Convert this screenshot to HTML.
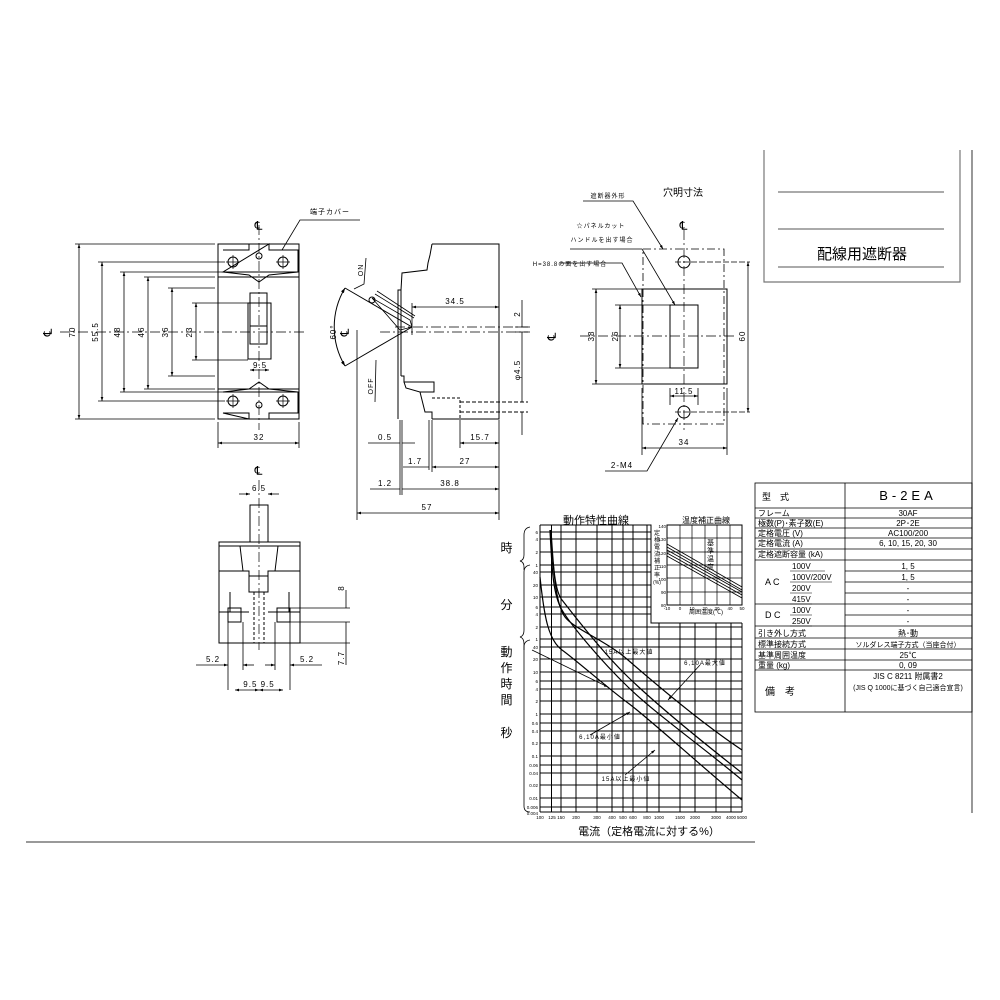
<!DOCTYPE html>
<html><head><meta charset="utf-8"><style>
html,body{margin:0;padding:0;background:#fff;}
svg{display:block;font-family:"Liberation Sans","Noto Sans CJK JP",sans-serif;}
</style></head><body>
<svg width="1000" height="1000" viewBox="0 0 1000 1000" xmlns="http://www.w3.org/2000/svg">
<rect width="1000" height="1000" fill="#fff"/>
<defs>
<marker id="a" viewBox="0 0 6 6" refX="6" refY="3" markerWidth="5" markerHeight="5" orient="auto-start-reverse"><path d="M0,1 L6,3 L0,5z" fill="#000"/></marker>
</defs>
<g stroke="#000" fill="none" stroke-width="1">
<!-- ===== FRONT VIEW ===== -->
<rect x="218" y="244" width="81" height="175"/>
<line x1="259" y1="225" x2="259" y2="430" stroke-dasharray="10,3,2,3" stroke-width="0.7"/>
<line x1="60" y1="332" x2="305" y2="332" stroke-dasharray="10,3,2,3" stroke-width="0.7"/>
<path d="M223,250 H249 V244 M269,244 V250 H298 V272 H223 Z"/>
<path d="M223,272 L249,275 L259,282 L269,275 L298,272"/>
<path d="M223,392 L249,389 L259,382 L269,389 L298,392"/>
<path d="M223,392 H298 V413 H269 V419 M249,419 V413 H223 Z"/>
<line x1="218" y1="277" x2="299" y2="277"/><line x1="218" y1="389" x2="299" y2="389"/>
<circle cx="233" cy="262" r="5"/><circle cx="283" cy="262" r="5"/>
<circle cx="233" cy="401" r="5"/><circle cx="283" cy="401" r="5"/>
<circle cx="259" cy="256" r="3"/><circle cx="259" cy="405" r="3"/>
<path d="M226,262 h14 M233,255 v14 M276,262 h14 M283,255 v14 M226,401 h14 M233,394 v14 M276,401 h14 M283,394 v14" stroke-width="0.7"/>
<rect x="250" y="293" width="17" height="51"/>
<rect x="248" y="303" width="23" height="56"/>
<line x1="250" y1="326" x2="267" y2="326"/>
<!-- dims front -->
<g stroke-width="0.8">
<path d="M75,244 H215 M75,419 H215 M98,262 H225 M98,401 H225 M120,272 H225 M120,392 H225 M144,277 H215 M144,389 H215 M168,288 H215 M168,376 H215 M192,303 H248 M192,360 H248"/>
<line x1="79" y1="244" x2="79" y2="419" marker-start="url(#a)" marker-end="url(#a)"/>
<line x1="102" y1="262" x2="102" y2="401" marker-start="url(#a)" marker-end="url(#a)"/>
<line x1="124" y1="272" x2="124" y2="392" marker-start="url(#a)" marker-end="url(#a)"/>
<line x1="148" y1="277" x2="148" y2="389" marker-start="url(#a)" marker-end="url(#a)"/>
<line x1="172" y1="288" x2="172" y2="376" marker-start="url(#a)" marker-end="url(#a)"/>
<line x1="196" y1="303" x2="196" y2="360" marker-start="url(#a)" marker-end="url(#a)"/>
<path d="M218,422 V448 M299,422 V448"/>
<line x1="218" y1="443" x2="299" y2="443" marker-start="url(#a)" marker-end="url(#a)"/>
<line x1="250" y1="370" x2="269" y2="370" marker-start="url(#a)" marker-end="url(#a)"/>
<path d="M282,250 L300,220 H360"/>
</g>
<!-- ===== SIDE VIEW ===== -->
<path d="M432,244 H499 V419 H432 M432,244 L430,255 L428,263 L427,270 L402,273 L401,290 L398,290 V419"/>
<line x1="401" y1="290" x2="401" y2="376"/>
<path d="M401,376 H404 V382 H434 V392 H420 M404,382 L406,388 L420,392 L425,412 L432,412 V419"/>
<path d="M432,398 H460 V419" stroke-dasharray="3,2"/>
<path d="M460,402 H528 M460,412 H528" stroke-dasharray="4,2"/>
<path d="M372,298 L410,320 L412,327 L400,330 Z M375,294 L414,318 M377,291 L415,316" stroke-width="0.8"/>
<circle cx="372" cy="300" r="3"/>
<path d="M412,327 L345,288 M412,327 L345,366"/>
<path d="M345,288 A76,76 0 0 0 345,366" marker-start="url(#a)" marker-end="url(#a)"/>
<line x1="395" y1="327" x2="530" y2="327" stroke-dasharray="10,3,2,3" stroke-width="0.7"/>
<line x1="380" y1="332" x2="530" y2="332" stroke-dasharray="10,3,2,3" stroke-width="0.7"/>
<g stroke-width="0.8">
<path d="M366,258 L364,284 L354,289 M376,360 L375,402"/>
<line x1="412" y1="307" x2="499" y2="307" marker-start="url(#a)" marker-end="url(#a)"/>
<path d="M412,303 V335 M499,420 V520 M357,330 V520 M400,420 V495 M402,420 V495 M432,420 V472 M460,420 V448 M429,420 V470"/>
<path d="M522,300 V327 M522,332 V402 M522,412 V435 M515,327 H528 M515,332 H528"/>
<line x1="460" y1="443" x2="499" y2="443" marker-start="url(#a)" marker-end="url(#a)"/>
<path d="M368,443 H400 M402,443 H415"/>
<line x1="432" y1="467" x2="499" y2="467" marker-start="url(#a)" marker-end="url(#a)"/>
<path d="M403,467 H429"/>
<line x1="402" y1="489" x2="499" y2="489" marker-end="url(#a)"/>
<path d="M370,489 H400"/>
<line x1="357" y1="513" x2="499" y2="513" marker-start="url(#a)" marker-end="url(#a)"/>
</g>
<!-- ===== CUTOUT ===== -->
<rect x="643" y="249" width="81" height="175" stroke-dasharray="8,3,2,3" stroke-width="0.8"/>
<rect x="642" y="289" width="85" height="95"/>
<rect x="670" y="305" width="28" height="63"/>
<line x1="684" y1="230" x2="684" y2="430" stroke-dasharray="10,3,2,3" stroke-width="0.7"/>
<line x1="580" y1="336" x2="735" y2="336" stroke-dasharray="10,3,2,3" stroke-width="0.7"/>
<circle cx="684" cy="262" r="6"/><circle cx="684" cy="412" r="6"/>
<path d="M675,262 H750 M675,412 H750" stroke-dasharray="6,2" stroke-width="0.7"/>
<g stroke-width="0.8">
<path d="M592,289 H642 M592,384 H642 M615,305 H670 M615,368 H670 M670,388 V405 M698,388 V405 M642,388 V455 M727,388 V455"/>
<line x1="596" y1="289" x2="596" y2="384" marker-start="url(#a)" marker-end="url(#a)"/>
<line x1="620" y1="305" x2="620" y2="368" marker-start="url(#a)" marker-end="url(#a)"/>
<line x1="748" y1="262" x2="748" y2="412" marker-start="url(#a)" marker-end="url(#a)"/>
<line x1="670" y1="396" x2="698" y2="396" marker-start="url(#a)" marker-end="url(#a)"/>
<line x1="642" y1="448" x2="727" y2="448" marker-start="url(#a)" marker-end="url(#a)"/>
<path d="M583,201 H633 L663,249" marker-end="url(#a)"/>
<path d="M570,249 H642 L675,305" marker-end="url(#a)"/>
<path d="M560,263 H622 L641,297" marker-end="url(#a)"/>
<path d="M605,471 H647 L678,418" marker-end="url(#a)"/>
</g>
<!-- title block -->
<path d="M764,150 V282 H960 V150" stroke="#777" stroke-width="1.2"/>
<path d="M778,192 H944 M778,229 H944 M778,267 H944" stroke="#555"/>
<line x1="972" y1="150" x2="972" y2="813" stroke="#555" stroke-width="1.2"/>
<line x1="26" y1="842" x2="755" y2="842" stroke="#999" stroke-width="2"/>
<!-- ===== BOTTOM VIEW ===== -->
<rect x="250" y="505" width="18" height="37"/>
<rect x="219" y="542" width="81" height="101"/>
<line x1="259" y1="480" x2="259" y2="650" stroke-dasharray="10,3,2,3" stroke-width="0.7"/>
<path d="M219,546 H300 M240,546 L243,571 M278,546 L275,571 M219,571 H249 V592 H268 V571 H300 M249,576 H268 M219,612 H230 V592 M300,612 H289 V592 M230,612 H249 M268,612 H289"/>
<rect x="228" y="608" width="13" height="14"/><rect x="277" y="608" width="13" height="14"/>
<path d="M254,592 V643 M264,592 V643" stroke-dasharray="3,2"/>
<g stroke-width="0.8">
<path d="M290,608 H350 M290,622 H350 M300,643 H350 M346,590 V608 M346,622 V643 M346,643 V665"/>
<path d="M228,622 V690 M243,622 V670 M275,622 V670 M290,622 V690"/>
<line x1="196" y1="665" x2="228" y2="665" marker-end="url(#a)"/>
<line x1="243" y1="665" x2="254" y2="665" marker-start="url(#a)"/>
<line x1="265" y1="665" x2="275" y2="665" marker-end="url(#a)"/>
<line x1="290" y1="665" x2="322" y2="665" marker-start="url(#a)"/>
<line x1="235" y1="690" x2="259" y2="690" marker-start="url(#a)" marker-end="url(#a)"/>
<line x1="259" y1="690" x2="283" y2="690" marker-start="url(#a)" marker-end="url(#a)"/>
<line x1="239" y1="494" x2="250" y2="494" marker-end="url(#a)"/><line x1="268" y1="494" x2="279" y2="494" marker-start="url(#a)"/>
</g>
<!-- ===== CHART ===== -->
<g stroke-width="1">
<path d="M540,525 V812 M551.5,525 V812 M561,525 V812 M576,525 V812 M597,525 V812 M612,525 V812 M623,525 V812 M633,525 V812 M647,525 V812"/>
<path d="M659,623 V812 M680,623 V812 M695,623 V812 M716,623 V812 M731,623 V812 M742,623 V812"/>
<path d="M540,525 H651 V623 H742"/>
<path d="M540,532 H651 M540,539 H651 M540,552 H651 M540,565 H651 M540,572 H651 M540,585 H651 M540,597 H651 M540,607 H651 M540,614 H651"/>
<path d="M540,627 H742 M540,639 H742 M540,647 H742 M540,659 H742 M540,672 H742 M540,681 H742 M540,689 H742 M540,701 H742 M540,714 H742 M540,723 H742 M540,731 H742 M540,743 H742 M540,756 H742 M540,765 H742 M540,773 H742 M540,785 H742 M540,798 H742 M540,807 H742 M540,812 H742"/>
</g>
<g stroke-width="1.2">
<path d="M540,577 C544,615 548,640 562,650 S610,690 628,703 S700,765 742,800"/>
<path d="M550,530 C552,570 553,595 562,610 S600,660 628,687 S700,745 742,780"/>
<path d="M551,530 C553,560 554,590 562,600 S600,650 628,677 S700,740 742,773"/>
<path d="M550,530 C554,575 556,605 565,617 S605,640 628,660 S700,722 742,750"/>
</g>
<g stroke-width="0.8">
<path d="M532,650 L608,687" marker-end="url(#a)"/>
<path d="M700,665 L668,700" marker-end="url(#a)"/>
<path d="M590,735 L630,712" marker-end="url(#a)"/>
<path d="M625,775 L655,750" marker-end="url(#a)"/>
</g>
<!-- braces -->
<path d="M530,527 Q524,528 524,535 V555 Q524,560 520,561 Q524,562 524,567 V570" stroke-width="0.8"/>
<path d="M530,565 Q524,566 524,572 V630 Q524,636 520,637 Q524,638 524,644 V650" stroke-width="0.8"/>
<path d="M530,640 Q524,641 524,647 V806 Q524,812 530,812" stroke-width="0.8"/>
<!-- inset -->
<rect x="667" y="525" width="75" height="80"/>
<path d="M667,538 H742 M667,552 H742 M667,565 H742 M667,578 H742 M667,592 H742 M680,525 V605 M692,525 V605 M705,525 V605 M717,525 V605 M730,525 V605" stroke-width="0.7"/>
<path d="M667,547 L742,590 M667,550 L742,592 M667,553 L742,595 M667,556 L742,598 M667,544 L742,587" stroke-width="0.8"/>
</g>
<!-- ===== TEXT ===== -->
<g font-size="8" fill="#000" text-anchor="middle" letter-spacing="1">
<text x="259" y="230" font-size="12">℄</text>
<text x="330" y="214" font-size="7">端子カバー</text>
<text transform="translate(75,332) rotate(-90)">70</text>
<text transform="translate(98,332) rotate(-90)">55.5</text>
<text transform="translate(120,332) rotate(-90)">48</text>
<text transform="translate(144,332) rotate(-90)">46</text>
<text transform="translate(168,332) rotate(-90)">36</text>
<text transform="translate(192,332) rotate(-90)">23</text>
<text transform="translate(52,332) rotate(-90)" font-size="12">℄</text>
<text x="259" y="440">32</text>
<text x="260" y="368">9.5</text>
<text transform="translate(363,270) rotate(-90)" font-size="7">ON</text>
<text transform="translate(373,386) rotate(-90)" font-size="7">OFF</text>
<text transform="translate(336,332) rotate(-90)">60°</text>
<text transform="translate(349,332) rotate(-90)" font-size="12">℄</text>
<text x="455" y="304">34.5</text>
<text transform="translate(520,314) rotate(-90)">2</text>
<text transform="translate(520,370) rotate(-90)">φ4.5</text>
<text x="385" y="440">0.5</text>
<text x="480" y="440">15.7</text>
<text x="415" y="464">1.7</text>
<text x="465" y="464">27</text>
<text x="385" y="486">1.2</text>
<text x="450" y="486">38.8</text>
<text x="427" y="510">57</text>
<text x="259" y="475" font-size="12">℄</text>
<text x="259" y="491">6.5</text>
<text transform="translate(344,588) rotate(-90)">8</text>
<text transform="translate(344,658) rotate(-90)">7.7</text>
<text x="213" y="662">5.2</text>
<text x="307" y="662">5.2</text>
<text x="259" y="687">9.5 9.5</text>
<text x="608" y="198" font-size="6">遮断器外形</text>
<text x="683" y="196" font-size="10" letter-spacing="0">穴明寸法</text>
<text x="684" y="230" font-size="12">℄</text>
<text x="601" y="228" font-size="6">☆パネルカット</text>
<text x="602" y="242" font-size="6">ハンドルを出す場合</text>
<text x="570" y="266" font-size="6">H=38.8の面を出す場合</text>
<text transform="translate(594,336) rotate(-90)">38</text>
<text transform="translate(618,336) rotate(-90)">26</text>
<text transform="translate(745,336) rotate(-90)">60</text>
<text transform="translate(556,336) rotate(-90)" font-size="12">℄</text>
<text x="684" y="394">11.5</text>
<text x="684" y="445">34</text>
<text x="622" y="468">2-M4</text>
<text x="862" y="259" font-size="15" letter-spacing="0">配線用遮断器</text>
<!-- chart titles -->
<text x="596" y="524" font-size="11" letter-spacing="0">動作特性曲線</text>
<text x="706" y="523" font-size="8" letter-spacing="0">温度補正曲線</text>
<text x="507" y="552" font-size="12">時</text>
<text x="507" y="609" font-size="12">分</text>
<text x="507" y="656" font-size="12">動</text>
<text x="507" y="672" font-size="12">作</text>
<text x="507" y="688" font-size="12">時</text>
<text x="507" y="704" font-size="12">間</text>
<text x="507" y="737" font-size="12">秒</text>
<text x="649" y="835" font-size="11" letter-spacing="0">電流（定格電流に対する%）</text>
<text x="629" y="654" font-size="6">15A以上最大値</text>
<text x="705" y="665" font-size="6">6,10A最大値</text>
<text x="600" y="739" font-size="6">6,10A最小値</text>
<text x="626" y="781" font-size="6">15A以上最小値</text>
<text x="706" y="614" font-size="6" letter-spacing="0">周囲温度(℃)</text>
<text x="711" y="545" font-size="7">基</text><text x="711" y="553" font-size="7">準</text><text x="711" y="561" font-size="7">温</text><text x="711" y="569" font-size="7">度</text>
</g>
<g font-size="4.5" fill="#000" text-anchor="end" letter-spacing="0">
<text x="538" y="534">6</text><text x="538" y="541">4</text><text x="538" y="554">2</text><text x="538" y="567">1</text>
<text x="538" y="574">40</text><text x="538" y="587">20</text><text x="538" y="599">10</text><text x="538" y="609">6</text><text x="538" y="616">4</text><text x="538" y="629">2</text><text x="538" y="641">1</text>
<text x="538" y="649">40</text><text x="538" y="661">20</text><text x="538" y="674">10</text><text x="538" y="683">6</text><text x="538" y="691">4</text><text x="538" y="703">2</text><text x="538" y="716">1</text>
<text x="538" y="725">0.6</text><text x="538" y="733">0.4</text><text x="538" y="745">0.2</text><text x="538" y="758">0.1</text><text x="538" y="767">0.06</text><text x="538" y="775">0.04</text><text x="538" y="787">0.02</text><text x="538" y="800">0.01</text><text x="538" y="809">0.006</text><text x="538" y="815">0.004</text>
<text x="666" y="528">140</text><text x="666" y="541">130</text><text x="666" y="555">120</text><text x="666" y="568">110</text><text x="666" y="581">100</text><text x="666" y="594">90</text><text x="666" y="607">80</text>
</g>
<g font-size="4.5" fill="#000" text-anchor="middle" letter-spacing="0">
<text x="540" y="819">100</text><text x="552" y="819">125</text><text x="561" y="819">150</text><text x="576" y="819">200</text><text x="597" y="819">300</text><text x="612" y="819">400</text><text x="623" y="819">500</text><text x="633" y="819">600</text><text x="647" y="819">800</text><text x="659" y="819">1000</text><text x="680" y="819">1500</text><text x="695" y="819">2000</text><text x="716" y="819">3000</text><text x="731" y="819">4000</text><text x="742" y="819">5000</text>
<text x="667" y="610">-10</text><text x="680" y="610">0</text><text x="692" y="610">10</text><text x="705" y="610">20</text><text x="717" y="610">30</text><text x="730" y="610">40</text><text x="742" y="610">50</text>
<text x="657" y="535" font-size="6">定</text><text x="657" y="542" font-size="6">格</text><text x="657" y="549" font-size="6">電</text><text x="657" y="556" font-size="6">流</text><text x="657" y="563" font-size="6">補</text><text x="657" y="570" font-size="6">正</text><text x="657" y="577" font-size="6">率</text><text x="657" y="584" font-size="5">(%)</text>
</g>
<!-- ===== SPEC TABLE ===== -->
<g stroke="#000" fill="none" stroke-width="0.8">
<rect x="755" y="483" width="217" height="229"/>
<line x1="845" y1="483" x2="845" y2="712"/>
<path d="M755,508 H972 M755,518 H972 M755,528 H972 M755,538 H972 M755,549 H972 M755,560 H972 M755,660 H972 M755,670 H972"/>
<path d="M845,571 H972 M845,582 H972 M845,593 H972 M845,604 H972 M845,615 H972 M845,626 H972 M755,604 H845 M755,626 H845 M755,638 H972 M755,649 H972"/>
<path d="M790,571 H825 M790,582 H832 M790,593 H812 M790,604 H812 M790,615 H812 M790,626 H812" stroke-width="0.6"/>
</g>
<g font-size="8" fill="#000" letter-spacing="0">
<text x="762" y="500" font-size="9">型　式</text>
<text x="908" y="500" font-size="13" text-anchor="middle" letter-spacing="4">B-2EA</text>
<text x="758" y="516">フレーム</text><text x="908" y="516" text-anchor="middle">30AF</text>
<text x="758" y="526">極数(P)･素子数(E)</text><text x="908" y="526" text-anchor="middle">2P･2E</text>
<text x="758" y="536">定格電圧 (V)</text><text x="908" y="536" text-anchor="middle">AC100/200</text>
<text x="758" y="546">定格電流 (A)</text><text x="908" y="546" text-anchor="middle">6, 10, 15, 20, 30</text>
<text x="758" y="557">定格遮断容量 (kA)</text>
<text x="792" y="569">100V</text><text x="908" y="569" text-anchor="middle">1, 5</text>
<text x="765" y="585" font-size="9">A C</text>
<text x="792" y="580">100V/200V</text><text x="908" y="580" text-anchor="middle">1, 5</text>
<text x="792" y="591">200V</text><text x="908" y="591" text-anchor="middle">-</text>
<text x="792" y="602">415V</text><text x="908" y="602" text-anchor="middle">-</text>
<text x="765" y="618" font-size="9">D C</text>
<text x="792" y="613">100V</text><text x="908" y="613" text-anchor="middle">-</text>
<text x="792" y="624">250V</text><text x="908" y="624" text-anchor="middle">-</text>
<text x="758" y="636">引き外し方式</text><text x="908" y="636" text-anchor="middle">熱･動</text>
<text x="758" y="647">標準接続方式</text><text x="908" y="647" text-anchor="middle" font-size="7">ソルダレス端子方式（当座合付）</text>
<text x="758" y="658">基準周囲温度</text><text x="908" y="658" text-anchor="middle">25℃</text>
<text x="758" y="668">重量 (kg)</text><text x="908" y="668" text-anchor="middle">0, 09</text>
<text x="908" y="679" text-anchor="middle">JIS C 8211 附属書2</text>
<text x="908" y="690" text-anchor="middle" font-size="7">(JIS Q 1000に基づく自己適合宣言)</text>
<text x="765" y="695" font-size="10">備　考</text>
</g>
</svg>
</body></html>
